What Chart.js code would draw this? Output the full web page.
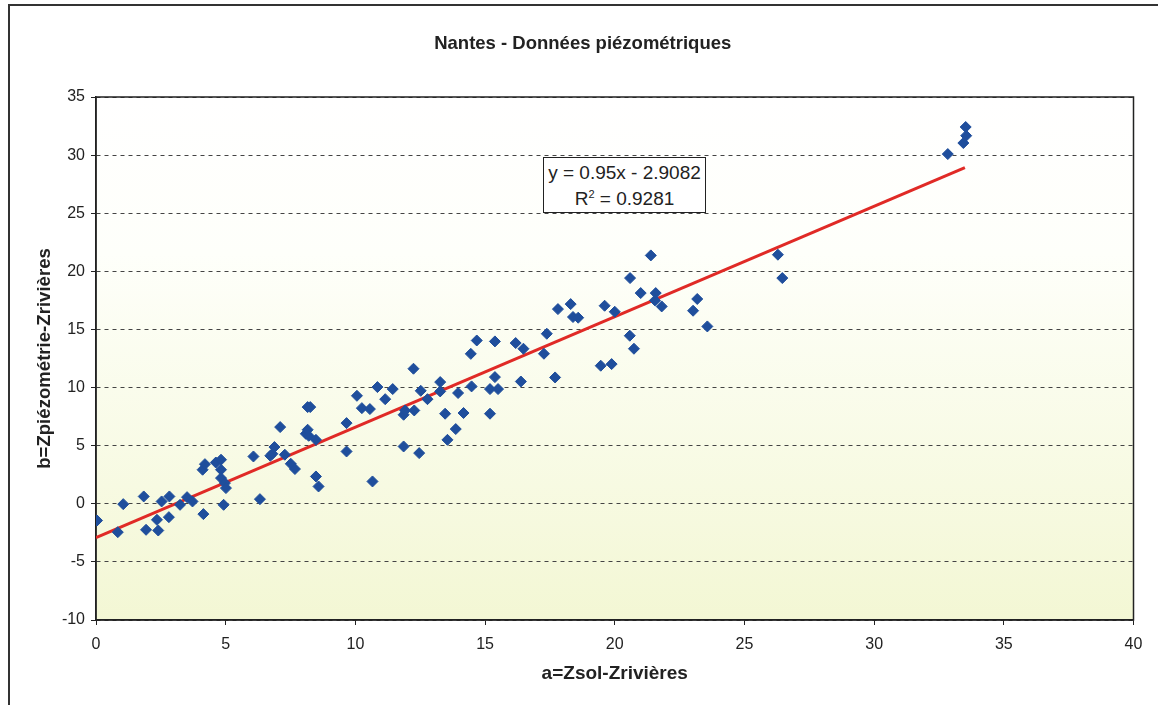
<!DOCTYPE html>
<html>
<head>
<meta charset="utf-8">
<script src="https://cdn.jsdelivr.net/npm/chart.js@4/dist/chart.umd.min.js"></script>
<style>
  html, body { margin: 0; padding: 0; background: #fff; overflow: hidden; }
  #wrap { position: relative; width: 1158px; height: 705px; }
  #frame { position: absolute; left: 8px; top: 4px; width: 1300px; height: 900px;
           border: 2px solid #333; box-sizing: border-box; }
  #eq { position: absolute; left: 543px; top: 157px; width: 163px; height: 56px;
        border: 1px solid #222; background: #fff; box-sizing: border-box;
        font-family: "Liberation Sans", Arial, sans-serif; font-size: 19px; color: #222;
        text-align: center; line-height: 26px; padding-top: 2px; white-space: nowrap; }
  #eq sup { font-size: 11px; line-height: 0; }
  canvas { position: absolute; left: 0; top: 0; }
</style>
</head>
<body>
<div id="wrap">
  <div id="frame"></div>
  <canvas id="chart" width="1158" height="705"></canvas>
  <div id="eq">y = 0.95x - 2.9082<br>R<sup>2</sup> = 0.9281</div>
</div>
<script>
// points (a, b)
const aValues = [0.04, 0.84, 1.05, 1.84, 1.93, 2.35, 2.40, 2.53, 2.83, 2.81, 3.24, 3.51, 3.72, 4.14, 4.11, 4.20,
  4.62, 4.82, 4.82, 4.82, 4.97, 5.01, 4.92, 6.07, 6.32, 6.72, 6.80, 6.88, 7.10, 7.28, 7.51, 7.67,
  8.16, 8.26, 8.09, 8.16, 8.20, 8.48, 8.48, 8.58, 9.66, 9.66, 10.06, 10.25, 10.56, 10.66, 10.85, 11.15,
  11.44, 11.86, 11.92, 12.27, 11.86, 12.24, 12.46, 12.52, 12.78, 13.27, 13.27, 13.46, 13.55, 13.87, 13.96, 14.17,
  14.45, 14.68, 14.48, 15.19, 15.19, 15.38, 15.50, 15.38, 16.18, 16.48, 16.38, 17.38, 17.27, 17.70, 17.81, 18.30,
  18.39, 18.59, 19.46, 19.61, 19.88, 20.00, 20.58, 20.74, 20.59, 21.00, 21.39, 21.58, 21.55, 21.81, 23.02, 23.18,
  23.57, 26.29, 26.46, 32.84, 33.44, 33.55, 33.53];
const bValues = [-1.44, -2.44, -0.03, 0.63, -2.24, -1.38, -2.30, 0.20, 0.63, -1.15, -0.09, 0.57, 0.20, -0.89, 2.93, 3.41,
  3.55, 3.79, 2.93, 2.21, 1.78, 1.35, -0.09, 4.07, 0.40, 4.13, 4.30, 4.88, 6.60, 4.22, 3.44, 2.99,
  8.32, 8.32, 6.02, 6.37, 5.85, 5.50, 2.35, 1.49, 6.94, 4.50, 9.29, 8.23, 8.15, 1.92, 10.04, 9.00,
  9.87, 7.66, 8.03, 8.03, 4.93, 11.62, 4.36, 9.72, 9.00, 10.47, 9.67, 7.75, 5.50, 6.43, 9.53, 7.81,
  12.90, 14.05, 10.10, 7.75, 9.87, 10.90, 9.87, 13.97, 13.83, 13.34, 10.52, 14.63, 12.91, 10.87, 16.75, 17.18,
  16.07, 16.01, 11.88, 17.04, 12.02, 16.52, 14.46, 13.34, 19.42, 18.13, 21.37, 18.13, 17.50, 16.98, 16.61, 17.62,
  15.26, 21.43, 19.42, 30.09, 31.04, 31.67, 32.42];

// courbe de tendance (extrémités)
const trendA = [0, 33.5];
const trendB = [-2.91, 28.92];

const xTicks = [0, 5, 10, 15, 20, 25, 30, 35, 40];
const yTicks = [-10, -5, 0, 5, 10, 15, 20, 25, 30, 35];

const FONT = '"Liberation Sans", Arial, sans-serif';

const plotBg = {
  id: 'plotBg',
  beforeDraw(chart) {
    const { ctx, chartArea: a } = chart;
    const g = ctx.createLinearGradient(0, a.top, 0, a.bottom);
    g.addColorStop(0, '#ffffff');
    g.addColorStop(0.3, '#fefffa');
    g.addColorStop(1, '#f3f7d4');
    ctx.save();
    ctx.fillStyle = g;
    ctx.fillRect(a.left, a.top, a.right - a.left, a.bottom - a.top);
    ctx.restore();
  },
  beforeDatasetsDraw(chart) {
    const { ctx, chartArea: a } = chart;
    ctx.save();
    ctx.strokeStyle = '#222';
    ctx.lineWidth = 1.5;
    ctx.strokeRect(a.left, a.top, a.right - a.left, a.bottom - a.top);
    ctx.restore();
  }
};

const points = aValues.map((a, i) => ({ x: a, y: bValues[i] }));
const trend = trendA.map((a, i) => ({ x: a, y: trendB[i] }));

new Chart(document.getElementById('chart'), {
  type: 'scatter',
  data: {
    datasets: [{
      label: 'b',
      data: points,
      pointStyle: 'rectRot',
      pointRadius: 5.5,
      backgroundColor: '#1f4e9c',
      borderColor: '#1f4e9c',
      borderWidth: 1
    }, {
      label: 'tendance',
      type: 'line',
      data: trend,
      borderColor: '#e02a26',
      borderWidth: 3,
      pointRadius: 0,
      fill: false
    }]
  },
  options: {
    responsive: false,
    animation: false,
    layout: { padding: { left: 32, right: 24.5, top: 0, bottom: 0 } },
    plugins: {
      legend: { display: false },
      tooltip: { enabled: false },
      title: {
        display: true,
        text: 'Nantes - Données piézométriques',
        color: '#222',
        font: { family: FONT, size: 18.5, weight: 'bold' },
        padding: { top: 32.9, bottom: 41.9 }
      }
    },
    scales: {
      x: {
        type: 'linear',
        min: 0,
        max: 40,
        afterBuildTicks(s) { s.ticks = xTicks.map(v => ({ value: v })); },
        afterFit(s) { s.height = 85; },
        grid: { drawOnChartArea: false, drawTicks: true, tickLength: 5, tickColor: '#222' },
        border: { color: '#222', width: 1.5 },
        ticks: { color: '#222', font: { family: FONT, size: 16 }, padding: 10 },
        title: {
          display: true,
          text: 'a=Zsol-Zrivières',
          color: '#222',
          font: { family: FONT, size: 19, weight: 'bold' },
          padding: { top: 0, bottom: 19.6 }
        }
      },
      y: {
        type: 'linear',
        min: -10,
        max: 35,
        afterBuildTicks(s) { s.ticks = yTicks.map(v => ({ value: v })); },
        afterFit(s) { s.width = 64; },
        grid: {
          color: '#444',
          lineWidth: 1,
          drawTicks: true,
          tickLength: 5,
          tickColor: '#222',
          tickBorderDash: []
        },
        border: { color: '#222', width: 1.5, dash: [4, 4] },
        ticks: { color: '#222', font: { family: FONT, size: 16 }, padding: 6 },
        title: {
          display: true,
          text: 'b=Zpiézométrie-Zrivières',
          color: '#222',
          font: { family: FONT, size: 18.6, weight: 'bold' },
          padding: { top: 1.8, bottom: 0 }
        }
      }
    }
  },
  plugins: [plotBg]
});
</script>
</body>
</html>
